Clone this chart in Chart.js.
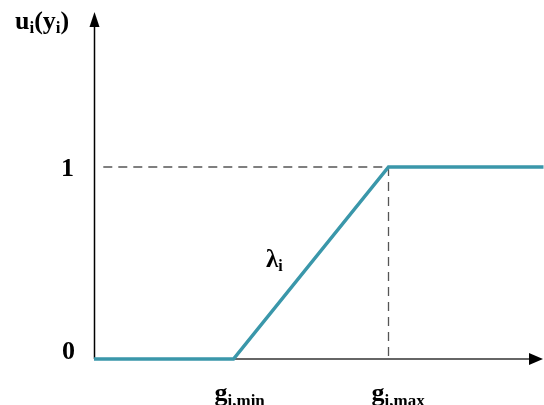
<!DOCTYPE html>
<html>
<head>
<meta charset="utf-8">
<script src="https://cdn.jsdelivr.net/npm/chart.js@4/dist/chart.umd.min.js"></script>
<style>
html,body{margin:0;padding:0;background:#fff;}
#wrap{width:544px;height:405px;position:relative;}
</style>
</head>
<body>
<div id="wrap"><canvas id="c" width="544" height="405"></canvas></div>
<script>
// Data (x in abstract units, gMin and gMax marked on the x axis)
const gMin = 0.9;
const gMax = 1.9;
const xEnd = 2.9;
const utilityX = [0, gMin, gMax, xEnd];
const utilityY = [0, 0, 1, 1];
const yTickValues = [0, 1];
const yTickLabels = ['1', '0'];
const dashH = {x: [0.06, gMax], y: [1, 1]};
const dashV = {x: [gMax, gMax], y: [1, 0]};

const pts = (xs, ys) => xs.map((x, i) => ({x, y: ys[i]}));

const FONT = '"Liberation Serif","Times New Roman",serif';

function drawSubText(ctx, x, y, parts) {
  let cx = x;
  for (const [t, size, dy] of parts) {
    ctx.font = 'bold ' + size + 'px ' + FONT;
    ctx.fillText(t, cx, y + dy);
    cx += ctx.measureText(t).width;
  }
}

const overlay = {
  id: 'overlay',
  beforeDatasetsDraw(chart) {
    const ctx = chart.ctx;
    const xs = chart.scales.x, ys = chart.scales.y;
    const x0 = xs.getPixelForValue(0), y0 = ys.getPixelForValue(0);
    ctx.save();
    ctx.strokeStyle = '#000';
    ctx.lineWidth = 1.5;
    ctx.beginPath();
    ctx.moveTo(x0 + 0.5, y0);
    ctx.lineTo(x0 + 0.5, 26);
    ctx.stroke();
    ctx.fillStyle = '#000';
    ctx.beginPath();
    ctx.moveTo(x0 + 0.5, 12);
    ctx.lineTo(x0 - 4.5, 27);
    ctx.lineTo(x0 + 5.5, 27);
    ctx.closePath();
    ctx.fill();
    ctx.strokeStyle = '#666';
    ctx.lineWidth = 2;
    ctx.beginPath();
    ctx.moveTo(x0, y0);
    ctx.lineTo(530, y0);
    ctx.stroke();
    ctx.fillStyle = '#000';
    ctx.beginPath();
    ctx.moveTo(543, y0);
    ctx.lineTo(529, y0 - 6);
    ctx.lineTo(529, y0 + 6);
    ctx.closePath();
    ctx.fill();
    ctx.restore();
  },
  afterDraw(chart) {
    const ctx = chart.ctx;
    const xs = chart.scales.x, ys = chart.scales.y;
    ctx.save();
    ctx.fillStyle = '#000';
    ctx.textBaseline = 'alphabetic';
    ctx.font = 'bold 26px ' + FONT;
    ctx.textAlign = 'right';
    ctx.fillText(yTickLabels[0], 74, ys.getPixelForValue(yTickValues[1]) + 9);
    ctx.fillText(yTickLabels[1], 75, ys.getPixelForValue(yTickValues[0]));
    ctx.textAlign = 'left';
    drawSubText(ctx, 15, 29, [['u', 26, 0], ['i', 17, 4], ['(y', 26, 0], ['i', 17, 4], [')', 26, 0]]);
    drawSubText(ctx, 266, 267, [['λ', 25, 0], ['i', 16, 4]]);
    drawSubText(ctx, xs.getPixelForValue(gMin) - 19, 401, [['g', 26, 0], ['i,min', 17, 5]]);
    drawSubText(ctx, xs.getPixelForValue(gMax) - 17, 401, [['g', 26, 0], ['i,max', 17, 5]]);
    ctx.restore();
  }
};

new Chart(document.getElementById('c'), {
  type: 'scatter',
  data: {
    datasets: [
      {data: pts(dashH.x, dashH.y), showLine: true, borderColor: '#555', borderWidth: 1.3, borderDash: [9, 6], pointRadius: 0, clip: false, order: 2},
      {data: pts(dashV.x, dashV.y), showLine: true, borderColor: '#555', borderWidth: 1.3, borderDash: [9, 6], pointRadius: 0, clip: false, order: 2},
      {data: pts(utilityX, utilityY), showLine: true, borderColor: '#3a97aa', borderWidth: 3.5, pointRadius: 0, clip: false, order: 1, borderJoinStyle: 'miter'}
    ]
  },
  options: {
    responsive: false,
    animation: false,
    devicePixelRatio: 1,
    layout: {padding: {left: 94, right: 0.5, top: 13.4, bottom: 46}},
    plugins: {legend: {display: false}, tooltip: {enabled: false}},
    scales: {
      x: {type: 'linear', min: 0, max: xEnd, display: false},
      y: {type: 'linear', min: 0, max: 1.8, display: false}
    }
  },
  plugins: [overlay]
});
</script>
</body>
</html>
